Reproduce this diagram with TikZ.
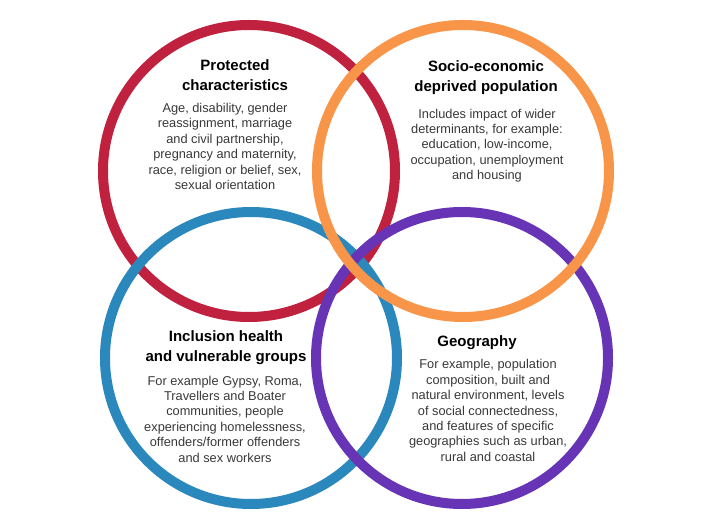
\documentclass[tikz,border=0pt]{standalone}
\usepackage{fontspec}
\setmainfont{Liberation Sans}
\usepackage{tikz}
\definecolor{ringred}{HTML}{C0213F}
\definecolor{ringorange}{HTML}{F89548}
\definecolor{ringblue}{HTML}{2B88BC}
\definecolor{ringpurple}{HTML}{6634B5}
\begin{document}
\begin{tikzpicture}[x=1pt, y=1pt,
		ring/.style={line width=10pt},
		heading/.style={align=center, inner sep=0pt, font=\fontsize{15}{19.5}\selectfont\bfseries},
		blurb/.style={align=center, inner sep=0pt, text=black!78, font=\fontsize{12.8}{15.4}\selectfont}]
			%%%%% START %%%%%
			
			\useasboundingbox (0, 0) rectangle (701, 522);
			
			\draw[ring, color=ringred] (249, 351) circle[radius=146pt];
			\draw[ring, color=ringblue] (251, 164) circle[radius=146pt];
			\draw[ring, color=ringpurple] (462, 164) circle[radius=146pt];
			\draw[ring, color=ringorange] (463, 351) circle[radius=146pt];
			
			\node[heading] (protTitle) at (235, 447) {Protected\\characteristics};
			\node[blurb] (protText) at (225, 375.5) {Age, disability, gender\\reassignment, marriage\\and civil partnership,\\pregnancy and maternity,\\race, religion or belief, sex,\\sexual orientation};
			
			\node[heading] (socioTitle) at (486, 444.5) {Socio-economic\\deprived population};
			\node[blurb] (socioText) at (487, 376.5) {Includes impact of wider\\determinants, for example:\\education, low-income,\\occupation, unemployment\\and housing};
			
			\node[heading] (inclTitle) at (226, 174.5) {Inclusion health\\and vulnerable groups};
			\node[blurb] (inclText) at (225, 103) {For example Gypsy, Roma,\\Travellers and Boater\\communities, people\\experiencing homelessness,\\offenders/former offenders\\and sex workers};
			
			\node[heading] (geoTitle) at (477, 179) {Geography};
			\node[blurb] (geoText) at (488, 111.5) {For example, population\\composition, built and\\natural environment, levels\\of social connectedness,\\and features of specific\\geographies such as urban,\\rural and coastal};
			
			%%%%% END %%%%%
		\end{tikzpicture}
\end{document}
